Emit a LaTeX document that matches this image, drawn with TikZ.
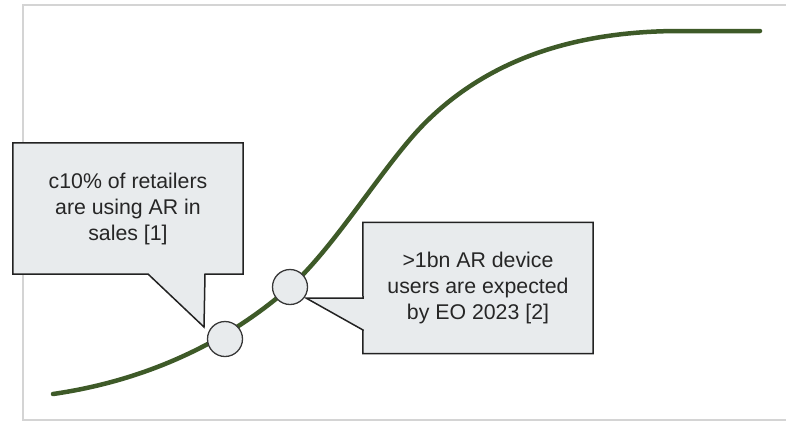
\documentclass[tikz,border=0pt]{standalone}
\usepackage{fontspec}
\setmainfont{Liberation Sans}
\definecolor{framegray}{RGB}{212,212,212}
\definecolor{curvegreen}{RGB}{62,90,40}
\definecolor{calloutfill}{RGB}{232,235,237}
\definecolor{calloutline}{RGB}{34,34,34}
\tikzset{
  frameline/.style={draw=framegray, line width=2bp},
  scurve/.style={draw=curvegreen, line width=4.5bp, line cap=round},
  calloutbox/.style={draw=calloutline, fill=calloutfill, line width=1.5bp, line join=miter},
  boxarea/.style={inner sep=0pt, minimum width=230bp, minimum height=131bp},
  callouttext/.style={align=center, text=black!85, font=\fontsize{21.3bp}{26bp}\selectfont},
  marker/.style={circle, draw=calloutline!90, fill=calloutfill, line width=1.3bp,
                 minimum size=35bp, inner sep=0pt}
}
\begin{document}
\begin{tikzpicture}[x=1bp, y=-1bp]
  \useasboundingbox (0,0) rectangle (786,421);

  % chart frame
  \draw[frameline] (786,5) -- (23,5) -- (23,421);
  \draw[frameline] (23,420) -- (786,420);

  % adoption S-curve
  \draw[scurve] (53,394) .. controls (150,380) and (230,340) .. (290,287)
                         .. controls (335,247) and (385,163) .. (425,123)
                         .. controls (480,68) and (560,31) .. (680,31)
                         -- (760,31);

  % callout areas and pointer tips
  \node[boxarea] (boxA) at (128,208.5) {};
  \node[boxarea] (boxB) at (478,288) {};
  \coordinate (tipA) at (204,327);
  \coordinate (tipB) at (306,298);

  % left callout
  \draw[calloutbox] (boxA.north west) -- (boxA.north east) -- (boxA.south east)
    -- (205,274) -- (tipA) -- (148,274) -- (boxA.south west) -- cycle;
  \node[callouttext] (textA) at (boxA.center) {c10\% of retailers\\are using AR in\\sales [1]};

  % right callout
  \draw[calloutbox] (boxB.north west) -- (boxB.north east) -- (boxB.south east)
    -- (boxB.south west) -- (363,330) -- (tipB) -- (363,298) -- cycle;
  \node[callouttext] (textB) at (boxB.center) {>1bn AR device\\users are expected\\by EO 2023 [2]};

  % markers on the curve
  \node[marker] (markA) at (225,339) {};
  \node[marker] (markB) at (290,287) {};
\end{tikzpicture}
\end{document}
